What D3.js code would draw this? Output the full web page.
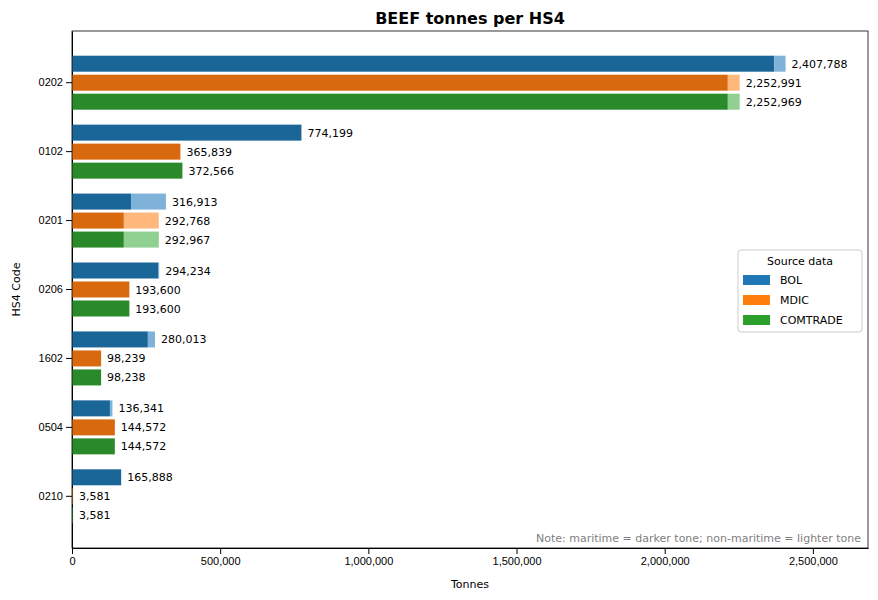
<!DOCTYPE html>
<html lang="en">
<head>
  <meta charset="utf-8" />
  <title>BEEF tonnes per HS4</title>
  <script src="https://d3js.org/d3.v7.min.js"></script>
  <style>
    body { margin: 0; background: white; font-family: "DejaVu Sans", sans-serif; }
    .tick text { font-size: 11px; fill: #000; }
  </style>
</head>
<body>
  <svg width="878" height="600"></svg>
  <script>
    const codes = ["0202", "0102", "0201", "0206", "1602", "0504", "0210"];
    const sources = ["BOL", "MDIC", "COMTRADE"];
    // totals per source, in code order
    const bolTotal = [2407788, 774199, 316913, 294234, 280013, 136341, 165888];
    const mdicTotal = [2252991, 365839, 292768, 193600, 98239, 144572, 3581];
    const comtradeTotal = [2252969, 372566, 292967, 193600, 98238, 144572, 3581];
    // maritime part
    const bolMaritime = [2370000, 774199, 199000, 292000, 256000, 128000, 165888];
    const mdicMaritime = [2213000, 365839, 175000, 193600, 98239, 144572, 3581];
    const comtradeMaritime = [2213000, 372566, 175000, 193600, 98238, 144572, 3581];

    const totals = [bolTotal, mdicTotal, comtradeTotal];
    const maritime = [bolMaritime, mdicMaritime, comtradeMaritime];
    const darkColors = ["#1a6699", "#d9690e", "#2a8a2a"];
    const lightColors = ["#7fb2d8", "#ffb87c", "#90d090"];
    const legendColors = ["#1f77b4", "#ff7f0e", "#2ca02c"];

    const svg = d3.select("svg");
    const mLeft = 72, mRight = 868, mTop = 31, mBottom = 548;

    const x = d3.scaleLinear().domain([0, 2686000]).range([mLeft, mRight]);
    const y = d3.scaleBand().domain(codes).range([mTop, mBottom]).paddingInner(0).paddingOuter(0.25);
    const offsets = [-19, 0, 19];
    const barH = 16;

    svg.append("g").attr("transform", `translate(0,${mBottom})`)
      .call(d3.axisBottom(x).tickValues([0, 500000, 1000000, 1500000, 2000000, 2500000]).tickFormat(d3.format(",")).tickSizeOuter(0));
    svg.append("g").attr("transform", `translate(${mLeft},0)`)
      .call(d3.axisLeft(y).tickSizeOuter(0));

    const fmt = d3.format(",");
    sources.forEach((s, i) => {
      codes.forEach((c, j) => {
        const cy = y(c) + y.bandwidth() / 2 + offsets[i];
        const m = maritime[i][j], t = totals[i][j];
        svg.append("rect").attr("x", x(0)).attr("y", cy - barH / 2)
          .attr("width", x(m) - x(0)).attr("height", barH).attr("fill", darkColors[i]);
        if (t > m) {
          svg.append("rect").attr("x", x(m)).attr("y", cy - barH / 2)
            .attr("width", x(t) - x(m)).attr("height", barH).attr("fill", lightColors[i]);
        }
        svg.append("text").attr("x", x(t) + 6).attr("y", cy + 4)
          .attr("font-size", 11).text(fmt(t));
      });
    });

    // frame
    svg.append("rect").attr("x", mLeft).attr("y", mTop).attr("width", mRight - mLeft).attr("height", mBottom - mTop)
      .attr("fill", "none").attr("stroke", "#000").attr("stroke-width", 0.8);

    svg.append("text").attr("x", (mLeft + mRight) / 2).attr("y", 24).attr("text-anchor", "middle")
      .attr("font-size", 16).attr("font-weight", "bold").text("BEEF tonnes per HS4");
    svg.append("text").attr("x", (mLeft + mRight) / 2).attr("y", 588).attr("text-anchor", "middle")
      .attr("font-size", 11).text("Tonnes");
    svg.append("text").attr("transform", `translate(20,${(mTop + mBottom) / 2}) rotate(-90)`)
      .attr("text-anchor", "middle").attr("font-size", 11).text("HS4 Code");
    svg.append("text").attr("x", 861).attr("y", 542).attr("text-anchor", "end")
      .attr("font-size", 11).attr("fill", "#808080")
      .text("Note: maritime = darker tone; non-maritime = lighter tone");

    // legend
    const lg = svg.append("g").attr("transform", "translate(738,250)");
    lg.append("rect").attr("width", 124).attr("height", 82).attr("rx", 3)
      .attr("fill", "white").attr("stroke", "#ccc");
    lg.append("text").attr("x", 62).attr("y", 15).attr("text-anchor", "middle")
      .attr("font-size", 11).text("Source data");
    sources.forEach((s, i) => {
      lg.append("rect").attr("x", 5).attr("y", 25 + i * 20).attr("width", 27).attr("height", 10)
        .attr("fill", legendColors[i]);
      lg.append("text").attr("x", 42).attr("y", 34 + i * 20).attr("font-size", 11).text(s);
    });
  </script>
</body>
</html>
